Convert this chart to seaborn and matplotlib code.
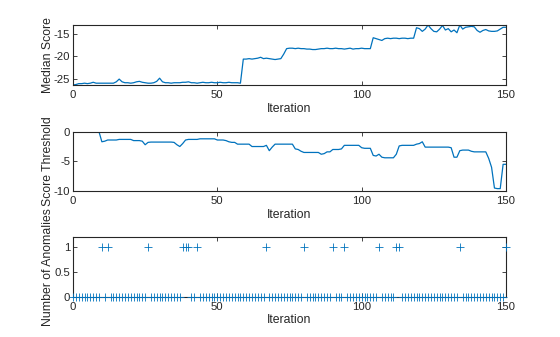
import numpy as np
import pandas as pd
import matplotlib
matplotlib.use("Agg")
import matplotlib.pyplot as plt
import seaborn as sns

# ---------------- data ----------------
iterations = list(range(0, 151))

median_score = [
    -26.3, -26.2, -26.0, -26.0, -25.9, -26.0, -25.9, -25.7, -25.9, -25.9,
    -25.9, -25.9, -25.9, -25.9, -25.9, -25.6, -25.0, -25.6, -25.8, -25.8,
    -25.9, -25.8, -25.6, -25.5, -25.7, -25.8, -25.9, -25.9, -25.8, -25.5,
    -24.8, -25.6, -25.8, -25.8, -25.9, -25.8, -25.8, -25.8, -25.7, -25.7,
    -25.6, -25.8, -25.8, -25.9, -25.8, -25.7, -25.8, -25.8, -25.7, -25.8,
    -25.8, -25.7, -25.8, -25.8, -25.7, -25.8, -25.8, -25.8, -25.9, -20.6,
    -20.6, -20.5, -20.6, -20.5, -20.4, -20.2, -20.5, -20.4, -20.5, -20.6,
    -20.7, -20.6, -20.5, -19.5, -18.3, -18.2, -18.2, -18.3, -18.2, -18.3,
    -18.3, -18.4, -18.4, -18.5, -18.5, -18.4, -18.3, -18.3, -18.2, -18.3,
    -18.3, -18.2, -18.3, -18.3, -18.4, -18.3, -18.2, -18.4, -18.3, -18.3,
    -18.2, -18.3, -18.3, -18.3, -15.9, -16.1, -16.3, -16.5, -16.1, -16.0,
    -16.1, -16.0, -16.0, -16.1, -16.0, -16.0, -16.1, -16.0, -16.0, -13.7,
    -13.9, -14.5, -14.0, -13.1, -13.9, -14.5, -14.6, -14.0, -13.2, -14.2,
    -13.9, -14.6, -14.2, -14.8, -13.1, -14.0, -13.6, -13.5, -13.4, -13.5,
    -14.3, -14.7, -14.3, -14.1, -14.4, -14.5, -14.5, -14.4, -14.0, -13.6,
    -13.6,
]

score_threshold = [
    0.0, 0.0, 0.0, 0.0, 0.0, 0.0, 0.0, 0.0, 0.0, 0.0,
    -1.7, -1.6, -1.4, -1.4, -1.4, -1.4, -1.3, -1.3, -1.3, -1.3,
    -1.3, -1.5, -1.5, -1.5, -1.6, -2.2, -1.8, -1.75, -1.75, -1.75,
    -1.75, -1.75, -1.75, -1.75, -1.75, -1.8, -2.2, -2.5, -2.0, -1.4,
    -1.3, -1.3, -1.3, -1.3, -1.2, -1.2, -1.2, -1.2, -1.2, -1.2,
    -1.4, -1.4, -1.4, -1.5, -1.7, -1.8, -1.8, -2.1, -2.1, -2.1,
    -2.1, -2.1, -2.5, -2.5, -2.5, -2.5, -2.5, -2.3, -3.2, -2.6,
    -2.1, -2.1, -2.1, -2.1, -2.1, -2.1, -2.1, -2.9, -3.0, -3.3,
    -3.5, -3.5, -3.5, -3.5, -3.5, -3.5, -3.8, -3.7, -3.4, -3.4,
    -3.0, -3.0, -3.0, -2.9, -2.3, -2.3, -2.3, -2.3, -2.3, -2.3,
    -2.7, -2.8, -2.8, -2.8, -4.0, -4.1, -3.8, -4.3, -4.4, -4.4,
    -4.4, -4.4, -3.8, -2.4, -2.3, -2.3, -2.3, -2.3, -2.3, -2.1,
    -2.0, -1.7, -2.6, -2.6, -2.6, -2.6, -2.6, -2.6, -2.6, -2.6,
    -2.6, -2.7, -4.3, -4.3, -3.2, -3.1, -3.1, -3.1, -3.3, -3.4,
    -3.4, -3.4, -3.4, -3.4, -4.5, -6.0, -9.5, -9.6, -9.6, -5.5,
    -5.5,
]

anomaly_iterations = [10, 12, 26, 38, 39, 40, 43, 67, 80, 90, 94, 106,
                      112, 113, 134, 150]
num_anomalies = [1 if i in anomaly_iterations else 0 for i in iterations]

x_ticks = [0, 50, 100, 150]
median_ticks = [-25, -20, -15]
threshold_ticks = [-10, -5, 0]
anomaly_ticks = [0, 0.5, 1]

# ---------------- style ----------------
sns.set_theme(style="ticks")
plt.rcParams["font.family"] = ["Liberation Sans", "DejaVu Sans"]
plt.rcParams["axes.unicode_minus"] = False

line_color = "#0072BD"
dark = "#262626"

df = pd.DataFrame({
    "Iteration": iterations,
    "Median Score": median_score,
    "Score Threshold": score_threshold,
    "Number of Anomalies": num_anomalies,
})

fig = plt.figure(figsize=(5.6, 3.37), dpi=100)
left, width = 73 / 560, 433 / 560
ax1 = fig.add_axes([left, 1 - 85 / 337, width, 60 / 337])
ax2 = fig.add_axes([left, 1 - 191 / 337, width, 59.3 / 337])
ax3 = fig.add_axes([left, 1 - 296.7 / 337, width, 59.4 / 337])

sns.lineplot(data=df, x="Iteration", y="Median Score", ax=ax1,
             color=line_color, linewidth=0.9)
sns.lineplot(data=df, x="Iteration", y="Score Threshold", ax=ax2,
             color=line_color, linewidth=0.9)
sns.scatterplot(data=df, x="Iteration", y="Number of Anomalies", ax=ax3,
                color=line_color, marker="+", s=36, linewidth=0.6,
                clip_on=False, zorder=3)

ax1.set_ylim(min(median_score), max(median_score))
ax1.set_yticks(median_ticks)
ax2.set_ylim(-10, 0)
ax2.set_yticks(threshold_ticks)
ax3.set_ylim(0, 1.2)
ax3.set_yticks(anomaly_ticks)
ax3.set_yticklabels(["0", "0.5", "1"])

for ax in (ax1, ax2, ax3):
    ax.set_xlim(0, 150)
    ax.set_xticks(x_ticks)
    ax.tick_params(direction="in", length=3.0, width=0.6, colors=dark,
                   labelsize=8.2, top=True, right=True)
    ax.tick_params(axis="x", pad=3.5)
    ax.tick_params(axis="y", pad=2)
    for sp in ax.spines.values():
        sp.set_visible(True)
        sp.set_linewidth(0.8)
        sp.set_color(dark)
    ax.set_xlabel("Iteration", fontsize=8.8, color=dark, labelpad=2)
    ax.yaxis.label.set_size(8.8)
    ax.yaxis.label.set_color(dark)
    ax.yaxis.labelpad = 0

fig.savefig("out.png", dpi=100)
